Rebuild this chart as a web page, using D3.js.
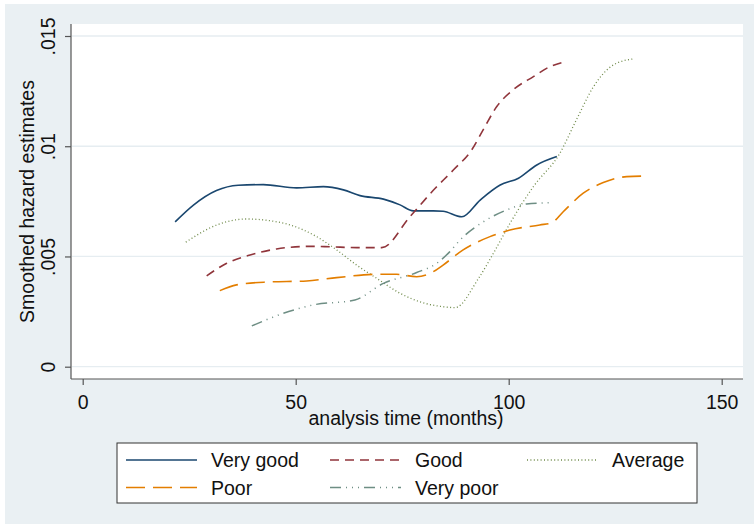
<!DOCTYPE html>
<html>
<head>
<meta charset="utf-8">
<script src="https://cdn.jsdelivr.net/npm/d3@7"></script>
<style>
  html, body { margin: 0; padding: 0; background: #ffffff; }
  svg { display: block; }
  text { font-family: "Liberation Sans", Arial, sans-serif; fill: #111; }
</style>
</head>
<body>
<svg id="chart" width="754" height="524"></svg>
<script>
// Smoothed hazard estimates by self-rated health group
const xTicks = [0, 50, 100, 150];
const yTicks = [0, 0.005, 0.01, 0.015];
const yTickLabels = ["0", ".005", ".01", ".015"];
const seriesNames = ["Very good", "Good", "Average", "Poor", "Very poor"];

const veryGoodT = [21.7, 26, 31.4, 36.5, 42.4, 50.2, 56.5, 61.2, 65.1, 70.6, 74.5, 77.6, 82.3, 84.6, 89, 93.3, 98, 102.3, 106.6, 111.3];
const veryGoodH = [0.00657, 0.00733, 0.00799, 0.00823, 0.00826, 0.00811, 0.00817, 0.00802, 0.00776, 0.0076, 0.00734, 0.00707, 0.00707, 0.00705, 0.0068, 0.00756, 0.00824, 0.00855, 0.00915, 0.00953];

const goodT = [29.1, 33.8, 39.3, 45.5, 53.4, 58, 64.3, 70.2, 76.8, 82.3, 87, 91.3, 94, 97.2, 101, 105.8, 109.7, 112.8];
const goodH = [0.00412, 0.00469, 0.00507, 0.00534, 0.00546, 0.00544, 0.0054, 0.0054, 0.0068, 0.008, 0.00892, 0.00983, 0.01074, 0.0118, 0.01255, 0.01316, 0.01361, 0.01381];

const averageT = [24.2, 31.5, 38.5, 44, 48.7, 54.9, 59.6, 64.3, 69, 74.5, 79.9, 84.6, 87.4, 92.9, 96.4, 100.3, 105.8, 112, 115.9, 119.9, 124.6, 129.2];
const averageH = [0.00565, 0.00643, 0.0067, 0.00662, 0.00643, 0.0059, 0.0053, 0.00461, 0.00401, 0.00333, 0.0029, 0.00272, 0.00268, 0.004, 0.00514, 0.0065, 0.00817, 0.00968, 0.0112, 0.0127, 0.01369, 0.01396];

const poorT = [32.2, 36.1, 43.2, 52.6, 59.6, 69, 73.7, 78.4, 82.3, 84.6, 89.3, 95.6, 100.3, 107.3, 110.1, 112.8, 117.5, 122.2, 127.7, 132.4];
const poorH = [0.00345, 0.00371, 0.00384, 0.00389, 0.00404, 0.00419, 0.00419, 0.00408, 0.00431, 0.00461, 0.0053, 0.0059, 0.0062, 0.00643, 0.00653, 0.00703, 0.00787, 0.00835, 0.00862, 0.00865];

const veryPoorT = [39.7, 47.1, 54.1, 63.9, 70.6, 78.4, 83.1, 86.2, 88.6, 94.8, 99.5, 104.2, 109.7];
const veryPoorH = [0.00185, 0.00242, 0.0028, 0.00303, 0.00378, 0.00427, 0.00469, 0.00522, 0.00575, 0.00666, 0.00711, 0.00738, 0.00744];

const seriesData = [
  [veryGoodT, veryGoodH],
  [goodT, goodH],
  [averageT, averageH],
  [poorT, poorH],
  [veryPoorT, veryPoorH]
];

// Stata s2color-like styling
const colors = ["#1a476f", "#90353b", "#6f8a4a", "#e37e00", "#6e8e84"];
const dashes = [null, "9,6", "1,2.4", "19,8", "11,5,1,5,1,5,1,5"];
const widths = [1.6, 1.6, 1.3, 1.6, 1.5];
const FONT = "19.5px";

const svg = d3.select("#chart");
const W = 754, H = 524;

// graph region background
svg.append("rect").attr("x", 5).attr("y", 4).attr("width", W - 5).attr("height", H - 4).attr("fill", "#eaf0f3");

// plot region
const plot = { left: 71, right: 743, top: 24, bottom: 379 };
svg.append("rect")
  .attr("x", plot.left).attr("y", plot.top)
  .attr("width", plot.right - plot.left).attr("height", plot.bottom - plot.top)
  .attr("fill", "#ffffff");

const x = d3.scaleLinear().domain([0, 150]).range([82.7, 721.7]);
const y = d3.scaleLinear().domain([0, 0.015]).range([366.7, 36]);

// gridlines
svg.append("g").selectAll("line").data(yTicks).join("line")
  .attr("x1", plot.left + 1).attr("x2", plot.right)
  .attr("y1", d => y(d)).attr("y2", d => y(d))
  .attr("stroke", "#e6edf1").attr("stroke-width", 1.3);

// y axis
const yAxis = d3.axisLeft(y).tickValues(yTicks).tickSize(6).tickFormat((d, i) => yTickLabels[i]);
const gy = svg.append("g").attr("transform", `translate(${plot.left},0)`).call(yAxis);
gy.select(".domain").attr("d", `M0,${plot.top}V${plot.bottom}`).attr("stroke", "#555").attr("stroke-width", 1.2);
gy.selectAll(".tick line").attr("stroke", "#555").attr("stroke-width", 1.2);
gy.selectAll(".tick text")
  .attr("x", 0).attr("y", 0).attr("dy", 0)
  .attr("transform", "translate(-16,0) rotate(-90)")
  .attr("text-anchor", "middle")
  .style("font-size", FONT).style("font-family", "'Liberation Sans', Arial, sans-serif").attr("fill", "#111");

// x axis
const xAxis = d3.axisBottom(x).tickValues(xTicks).tickSize(6).tickFormat(d3.format("d"));
const gx = svg.append("g").attr("transform", `translate(0,${plot.bottom})`).call(xAxis);
gx.select(".domain").attr("d", `M${plot.left},0H${plot.right}`).attr("stroke", "#555").attr("stroke-width", 1.2);
gx.selectAll(".tick line").attr("stroke", "#555").attr("stroke-width", 1.2);
gx.selectAll(".tick text")
  .attr("y", 30).attr("dy", 0)
  .style("font-size", FONT).style("font-family", "'Liberation Sans', Arial, sans-serif").attr("fill", "#111");

// axis titles
svg.append("text")
  .attr("x", (plot.left + plot.right) / 2 - 1).attr("y", 425)
  .attr("text-anchor", "middle").style("font-size", FONT)
  .text("analysis time (months)");
svg.append("text")
  .attr("transform", `translate(34,${(plot.top + plot.bottom) / 2}) rotate(-90)`)
  .attr("text-anchor", "middle").style("font-size", FONT)
  .text("Smoothed hazard estimates");

// hazard curves
const line = d3.line().x(d => x(d[0])).y(d => y(d[1])).curve(d3.curveMonotoneX);
seriesData.forEach(([ts, hs], i) => {
  const pts = ts.map((t, j) => [t, hs[j]]);
  svg.append("path")
    .datum(pts)
    .attr("d", line)
    .attr("fill", "none")
    .attr("stroke", colors[i])
    .attr("stroke-width", widths[i])
    .attr("stroke-dasharray", dashes[i]);
});

// legend
const legend = svg.append("g");
legend.append("rect")
  .attr("x", 117).attr("y", 443).attr("width", 580).attr("height", 60)
  .attr("fill", "#ffffff").attr("stroke", "#333").attr("stroke-width", 1);
const legendPos = [
  { lx: 126, row: 0 }, { lx: 330, row: 0 }, { lx: 527, row: 0 },
  { lx: 126, row: 1 }, { lx: 330, row: 1 }
];
seriesNames.forEach((name, i) => {
  const p = legendPos[i];
  const cy = 460 + p.row * 27.5;
  legend.append("line")
    .attr("x1", p.lx).attr("x2", p.lx + 71)
    .attr("y1", cy).attr("y2", cy)
    .attr("stroke", colors[i]).attr("stroke-width", widths[i])
    .attr("stroke-dasharray", dashes[i]);
  legend.append("text")
    .attr("x", p.lx + 85).attr("y", cy + 7)
    .style("font-size", FONT)
    .text(name);
});
</script>
</body>
</html>
